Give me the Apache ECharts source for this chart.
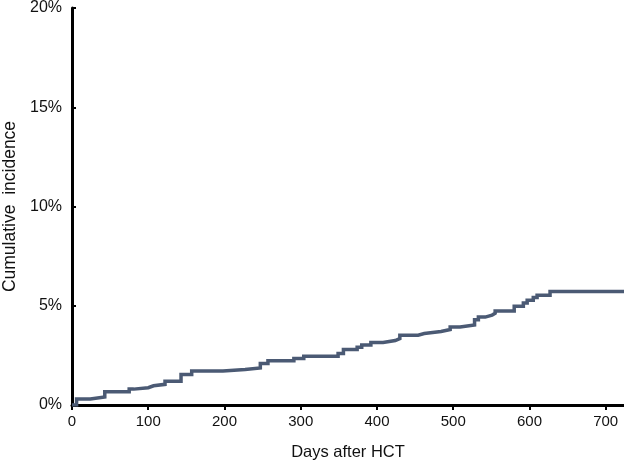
<!DOCTYPE html>
<html>
<head>
<meta charset="utf-8">
<script src="https://cdn.jsdelivr.net/npm/echarts@6/dist/echarts.min.js"></script>
<style>
html, body { margin: 0; padding: 0; background: #fff; }
#chart { width: 624px; height: 465px; }
</style>
</head>
<body>
<div id="chart"></div>
<script>
// step times (days after HCT) and cumulative incidence (%) after each step
var stepDays = [0, 6, 24, 43, 75, 81, 100, 107, 122, 143, 157, 198, 227, 247, 257, 291, 304, 349, 356, 374, 380, 392, 408,
  424, 430, 454, 462, 484, 496, 509, 528, 533, 542, 551, 555, 580, 592, 597, 605, 610, 627, 724];
var incidence = [0, 0.3, 0.4, 0.67, 0.8, 0.87, 0.97, 1.04, 1.2, 1.54, 1.71, 1.79, 1.87, 2.09, 2.23, 2.34, 2.46, 2.6, 2.8, 2.91, 3.02, 3.15, 3.25,
  3.35, 3.52, 3.6, 3.7, 3.8, 3.93, 4.03, 4.3, 4.43, 4.53, 4.62, 4.73, 4.97, 5.14, 5.28, 5.41, 5.53, 5.72, 5.72];
var xTicks = [0, 100, 200, 300, 400, 500, 600, 700];
var yTicks = [0, 5, 10, 15, 20];

var points = [];
for (var i = 0; i < stepDays.length; i++) {
  points.push([stepDays[i], incidence[i]]);
}

var chart = echarts.init(document.getElementById('chart'));
var font = 'Liberation Sans, Arial, sans-serif';
chart.setOption({
  animation: false,
  grid: { left: 72, right: 0, top: 8, bottom: 60, containLabel: false, outerBoundsMode: 'none' },
  xAxis: {
    type: 'value',
    min: 0,
    max: 724,
    interval: 100,
    name: 'Days after HCT',
    nameLocation: 'middle',
    nameGap: 39,
    nameTextStyle: { fontFamily: font, fontSize: 16.5, color: '#111' },
    axisLine: { lineStyle: { color: '#000', width: 3 } },
    axisTick: { show: true, length: 5, lineStyle: { color: '#000', width: 2 } },
    axisLabel: {
      fontFamily: font, fontSize: 15, color: '#111', margin: 9,
      showMaxLabel: false,
      formatter: function (v) { return xTicks.indexOf(v) >= 0 ? String(v) : ''; }
    },
    splitLine: { show: false }
  },
  yAxis: {
    type: 'value',
    min: 0,
    max: 20,
    interval: 5,
    name: 'Cumulative  incidence',
    nameLocation: 'middle',
    nameGap: 53,
    nameTextStyle: { fontFamily: font, fontSize: 17.5, color: '#111' },
    axisLine: { show: true, lineStyle: { color: '#000', width: 3 } },
    axisTick: { show: true, inside: true, length: 4, lineStyle: { color: '#000', width: 2 } },
    axisLabel: {
      fontFamily: font, fontSize: 16, color: '#111', margin: 10,
      formatter: function (v) { return yTicks.indexOf(v) >= 0 ? v + '%' : ''; }
    },
    splitLine: { show: false }
  },
  series: [{
    type: 'line',
    step: 'end',
    data: points,
    showSymbol: false,
    lineStyle: { color: '#4b5a74', width: 3.5, join: 'miter' }
  }]
});
</script>
</body>
</html>
